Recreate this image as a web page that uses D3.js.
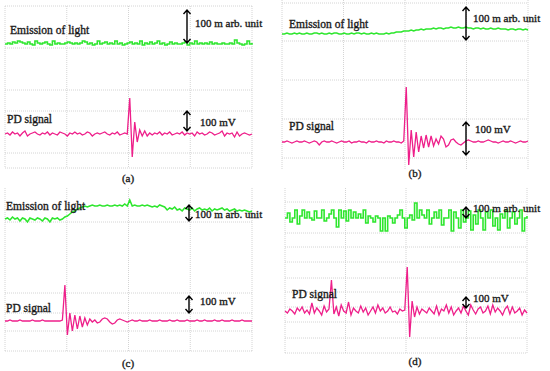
<!DOCTYPE html>
<html>
<head>
<meta charset="utf-8">
<script src="https://cdn.jsdelivr.net/npm/d3@7"></script>
<style>
  body { margin: 0; background: #fff; }
  svg text { font-family: "Liberation Serif", "Times New Roman", serif; fill: #1a1a1a; stroke: #1a1a1a; stroke-width: 0.35px; }
</style>
</head>
<body>
<svg id="chart" width="550" height="371"></svg>
<script>
// Scope traces, one value per sample, offset from the trace baseline (up = positive)

var aGreen = [0,1,0,2,1,3,2,1,0,2, 0,-1,3,1,0,1,2,0,-1,3, 0,1,0,0,1,2,1,0,1,0, 1,3,2,0,1,-1,0,3,0,1,
    2,0,1,0,3,0,1,-1,0,1, 2,0,1,0,3,-1,1,0,2,0, 1,3,0,1,-1,0,2,0,1,0, 0,1,2,-1,1,0,3,0,1,0,
    1,0,2,0,1,0,0,1,0,0, 1,0,4,1,0,-1,0,3,0,1];
var aPink = [0,1,-1,2,0,1,-2,1,3,-2, 0,1,2,0,-1,1,0,2,-1,1, 0,-1,2,1,0,-2,1,0,2,0, 1,-1,0,2,1,-2,0,1,0,1,
    2,0,-1,1,0,2,-1,0,1,0, 36,-23,12,-8,4,-2,3,-2,1,-1, 1,0,2,-1,1,0,2,-1,0,1, 0,2,-1,1,0,1,-2,2,0,1,
    -1,0,2,1,-1,0,1,3,-2,1, 0,1,-3,2,-2,0,1,0,-1,0];

var bGreen = [0,0,1,0,0,1,0,1,0,0, 1,0,0,1,1,0,1,0,0,1, 0,1,1,0,0,1,0,0,1,0, 1,1,0,1,0,0,1,0,1,0,
    0,0,1,0,1,1,2,2,2,3, 3,3,4,3,4,4,5,4,5,5, 5,6,5,6,6,5,6,6,7,6, 6,7,6,6,7,6,6,5,6,6,
    5,6,5,5,6,5,5,6,5,5, 5,4,5,5,4,5,5,4,5,4];
var bPink = [0,0,1,0,-1,0,1,0,0,1, 0,-1,0,1,0,-3,0,1,0,0, 1,0,-1,0,1,0,0,1,-1,0, 0,1,0,0,-1,1,0,0,1,0,
    0,-1,1,0,0,1,0,0,-1,1, 55,-23,12,-15,10,-10,6,-6,7,-5, 6,-4,3,-2,6,3,-5,-3,2,3, 0,-2,-3,-1,1,2,1,0,
    0,1,0,0,1,2,1,0,0,-1, 0,1,0,0,1,0,-1,0,1,0, 0,1];

var cGreen = [0,1,-1,2,0,1,-2,1,0,-3, 1,0,-1,1,0,-2,1,0,-3,1, 0,1,-1,0,2,3,5,7,8,10, 11,12,13,12,13,14,13,13,14,13,
    13,14,13,13,14,13,14,13,15,13, 19,13,14,13,13,14,13,14,13,12, 13,12,14,13,12,9,11,10,12,9, 10,8,11,10,9,11,8,10,11,9,
    10,9,11,8,10,9,10,11,9,10, 8,9,10,8,9,8,9,8,7,8];
var cPink = [0,0,1,0,0,0,1,0,0,0, 0,1,0,0,0,1,0,0,0,0, 0,0,0,1,36,-14,8,-10,6,-8, 5,-6,3,-4,2,-1,1,-2,-1,2,
    3,2,-1,-3,-2,1,2,1,0,-1, 0,1,0,0,1,0,0,0,1,0, 0,0,1,0,0,0,1,0,0,1, 0,0,0,1,0,0,0,1,0,0,
    1,0,0,0,1,0,0,1,0,0, 0,1,0,0,0,1,0,0,0,0];

var dGreen = [0,5,-4,0,8,-6,2,8,0,6, 0,-2,7,0,0,8,-3,0,4,8, 0,-9,8,0,7,-3,8,0,6,0, 4,0,8,-5,2,0,-4,2,0,-13,
    0,-13,2,0,-5,0,3,8,0,-10, 0,3,-2,15,0,8,3,0,8,-6, 0,6,0,8,-7,0,0,8,-13,6, 0,-10,8,-4,0,7,-12,3,-6,8,
    0,-12,6,0,8,-8,0,-12,4,0, 8,-10,0,6,-6,0,8,-13,0,2];
var dPink = [0,-2,2,0,-3,3,0,4,-2,1, -3,8,-2,3,0,-4,5,-1,2,31, -3,4,-5,6,0,-2,9,-4,3,0, -2,5,-1,3,-4,0,4,-2,6,0,
    3,-2,0,4,-1,0,-3,2,0,1, 44,-26,10,-6,4,-3,2,0,-2,3, 0,-3,5,-4,2,0,6,-2,4,-4, 0,3,-2,5,0,-4,6,1,-3,2,
    4,-2,0,5,-3,6,-1,3,0,-4, 2,5,-3,4,-2,0,3,-4,1,-2];

var panelLetters = ["(a)", "(b)", "(c)", "(d)"];
var lightLabel = "Emission of light";
var lightScaleLabel = "100 m arb. unit";
var pdLabel = "PD signal";
var pdScaleLabel = "100 mV";

var green = "#2ee62e";
var pink = "#ee1f8a";
var gridColor = "#c9c9c9";

var $svg = d3.select("#chart");

// layout of each sub-picture
var panels = [
    { letter: 0, green: aGreen, pink: aPink, x0: 5, x1: 252, top: 6, bottom: 168,
      hLines: [6, 48, 90, 111, 153, 168], gBase: 44, pBase: 134, gStep: true, pStep: false,
      lightText: [10, 34], gArrow: [187, 10, 43], gScaleText: [195, 27],
      pdText: [7, 123], pArrow: [187, 111, 131], pScaleText: [200, 126], letterPos: [128, 182] },
    { letter: 1, green: bGreen, pink: bPink, x0: 282, x1: 528, top: 0, bottom: 170,
      hLines: [3, 41, 80, 119, 158], gBase: 34, pBase: 142, gStep: false, pStep: false,
      lightText: [289, 28], gArrow: [466, 7, 40], gScaleText: [473, 22],
      pdText: [289, 130], pArrow: [466, 122, 155], pScaleText: [475, 133], letterPos: [415, 177] },
    { letter: 2, green: cGreen, pink: cPink, x0: 5, x1: 252, top: 188, bottom: 351,
      hLines: [222, 293, 313, 331, 351], gBase: 219, pBase: 321, gStep: false, pStep: false,
      lightText: [6, 210], gArrow: [189, 205, 221], gScaleText: [195, 218],
      pdText: [6, 312], pArrow: [189, 296, 313], pScaleText: [200, 305], letterPos: [128, 367] },
    { letter: 3, green: dGreen, pink: dPink, x0: 285, x1: 527, top: 188, bottom: 353,
      hLines: [202, 233, 247, 262, 278, 292, 307, 322, 338, 353], gBase: 218, pBase: 311, gStep: true, pStep: false,
      lightText: null, gArrow: [466, 207, 218], gScaleText: [473, 212],
      pdText: [292, 298], pArrow: [466, 297, 308], pScaleText: [473, 302], letterPos: [415, 365] }
];

panels.forEach(drawPanel);

function drawPanel(p) {
    var $g = $svg.append("g");

    // time axis, 4 divisions across
    var x = d3.scaleLinear().domain([0, 4]).range([p.x0, p.x1]);
    $g.append("g").selectAll("line").data(d3.range(5)).join("line")
        .attr("x1", d => x(d)).attr("x2", d => x(d))
        .attr("y1", p.top).attr("y2", p.bottom)
        .attr("stroke", gridColor).attr("stroke-width", 0.8)
        .attr("stroke-dasharray", "1,1");
    $g.append("g").selectAll("line").data(p.hLines).join("line")
        .attr("x1", p.x0).attr("x2", p.x1)
        .attr("y1", d => d).attr("y2", d => d)
        .attr("stroke", gridColor).attr("stroke-width", 0.8)
        .attr("stroke-dasharray", "1,1");

    drawTrace($g, p.green, p.x0, p.x1, p.gBase, green, p.gStep, 1.6);
    drawTrace($g, p.pink, p.x0, p.x1, p.pBase, pink, p.pStep, 1.3);

    if (p.lightText) addLabel($g, lightLabel, p.lightText, 11.5);
    addLabel($g, lightScaleLabel, p.gScaleText, 11);
    addLabel($g, pdLabel, p.pdText, 11.5);
    addLabel($g, pdScaleLabel, p.pScaleText, 11);
    drawArrow($g, p.gArrow);
    drawArrow($g, p.pArrow);

    $g.append("text")
        .attr("x", p.letterPos[0]).attr("y", p.letterPos[1])
        .attr("text-anchor", "middle")
        .attr("font-size", 11)
        .text(panelLetters[p.letter]);
}

function drawTrace($g, values, x0, x1, base, color, step, w) {
    var xs = d3.scaleLinear().domain([0, values.length - 1]).range([x0, x1]);
    var ys = d3.scaleLinear().domain([-50, 50]).range([base + 50, base - 50]);
    var line = d3.line()
        .x((d, i) => xs(i))
        .y(d => ys(d))
        .curve(step ? d3.curveStepAfter : d3.curveLinear);
    $g.append("path")
        .datum(values)
        .attr("d", line)
        .attr("fill", "none")
        .attr("stroke", color)
        .attr("stroke-width", w);
}

function addLabel($g, txt, pos, size) {
    $g.append("text")
        .attr("x", pos[0]).attr("y", pos[1])
        .attr("font-size", size)
        .text(txt);
}

// vertical double headed arrow [x, yTop, yBottom]
function drawArrow($g, a) {
    var ax = a[0], y1 = a[1], y2 = a[2];
    var hw = 3.5, hh = Math.min(4, (y2 - y1) / 2.2);
    $g.append("path")
        .attr("d", `M${ax},${y1}L${ax},${y2}M${ax - hw},${y1 + hh}L${ax},${y1}L${ax + hw},${y1 + hh}` +
                   `M${ax - hw},${y2 - hh}L${ax},${y2}L${ax + hw},${y2 - hh}`)
        .attr("fill", "none")
        .attr("stroke", "#000")
        .attr("stroke-width", 1.4);
}
</script>
</body>
</html>
